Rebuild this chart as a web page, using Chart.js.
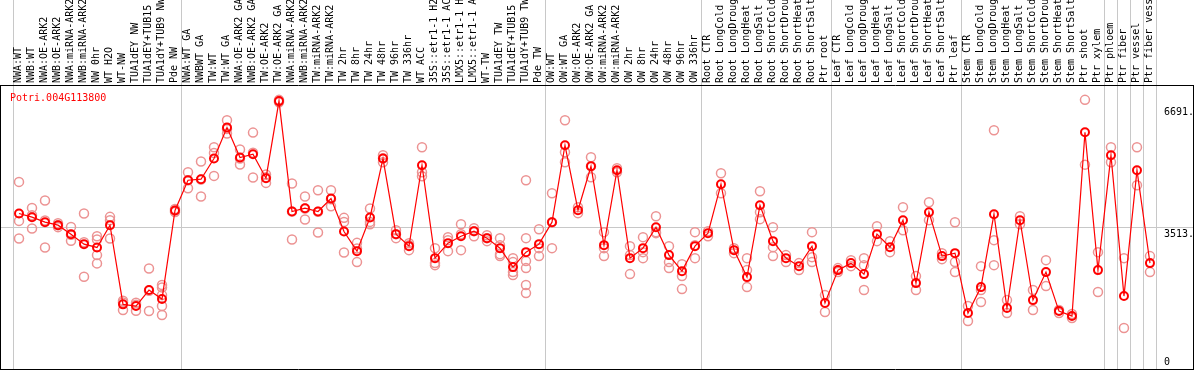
<!DOCTYPE html>
<html>
<head>
<meta charset="utf-8">
<script src="https://cdn.jsdelivr.net/npm/chart.js@4"></script>
<style>
html, body { margin: 0; padding: 0; background: #fff; }
canvas { display: block; }
</style>
</head>
<body>
<canvas id="chart" width="1194" height="370"></canvas>
<script>
var geneName = 'Potri.004G113800';

var categories = [
  'NWA:WT', 'NWB:WT', 'NWA:OE-ARK2', 'NWB:OE-ARK2', 'NWA:miRNA-ARK2', 'NWB:miRNA-ARK2',
  'NW 0hr', 'WT H2O', 'WT-NW', 'TUA1dEY NW', 'TUA1dEY+TUB15', 'TUA1dY+TUB9 NW', 'Pde NW',
  'NWA:WT GA', 'NWBWT GA', 'TW:WT', 'TW:WT GA', 'NWA:OE-ARK2 GA', 'NWB:OE-ARK2 GA',
  'TW:OE-ARK2', 'TW:OE-ARK2 GA', 'NWA:miRNA-ARK2', 'NWB:miRNA-ARK2', 'TW:miRNA-ARK2',
  'TW:miRNA-ARK2', 'TW 2hr', 'TW 8hr', 'TW 24hr', 'TW 48hr', 'TW 96hr', 'TW 336hr', 'WT ACC',
  '35S::etr1-1 H2', '35S::etr1-1 AC', 'LMX5::etr1-1 H', 'LMX5::etr1-1 A', 'WT-TW',
  'TUA1dEY TW', 'TUA1dEY+TUB15', 'TUA1dY+TUB9 TW', 'Pde TW',
  'OW:WT', 'OW:WT GA', 'OW:OE-ARK2', 'OW:OE-ARK2 GA', 'OW:miRNA-ARK2', 'OW:miRNA-ARK2',
  'OW 2hr', 'OW 8hr', 'OW 24hr', 'OW 48hr', 'OW 96hr', 'OW 336hr',
  'Root CTR', 'Root LongCold', 'Root LongDroug', 'Root LongHeat', 'Root LongSalt',
  'Root ShortCold', 'Root ShortDrou', 'Root ShortHeat', 'Root ShortSalt', 'Ptr root',
  'Leaf CTR', 'Leaf LongCold', 'Leaf LongDroug', 'Leaf LongHeat', 'Leaf LongSalt',
  'Leaf ShortCold', 'Leaf ShortDrou', 'Leaf ShortHeat', 'Leaf ShortSalt', 'Ptr leaf',
  'Stem CTR', 'Stem LongCold', 'Stem LongDroug', 'Stem LongHeat', 'Stem LongSalt',
  'Stem ShortCold', 'Stem ShortDrou', 'Stem ShortHeat', 'Stem ShortSalt',
  'Ptr shoot', 'Ptr xylem', 'Ptr phloem', 'Ptr fiber', 'Ptr vessel', 'Ptr fiber vess'
];

var means = [
  3866, 3774, 3650, 3576, 3352, 3104, 3022, 3576, 1607, 1564, 1962, 1738, 3941,
  4693, 4718, 5232, 6001, 5256, 5338, 4743, 6660, 3916, 3998, 3916, 4238, 3419, 2930, 3767, 5232,
  3352, 3054, 5065, 2756, 3129, 3302, 3427, 3253, 3004, 2533, 2905, 3104,
  3650, 5562, 3948, 5040, 3079, 4941, 2756, 3004, 3526, 2831, 2433, 3054,
  3377, 4594, 2955, 2284, 4072, 3178, 2756, 2557, 3054, 1639,
  2458, 2632, 2359, 3352, 3029, 3700, 2135, 3898, 2806, 2880,
  1390, 2036, 3849, 1515, 3700, 1713, 2409, 1440, 1316, 5885,
  2458, 5314, 1813, 4941, 2632
];

var replicates = [
  [4651, 3682, 3245], [4005, 3494, 3824], [4189, 3692, 3022], [3625, 3576, 3526],
  [3533, 3186, 3337], [3866, 2292, 3153], [3302, 3220, 2831, 2625], [3782, 3700, 3245],
  [1696, 1465, 1656], [1646, 1448, 1599], [2500, 1440, 1944], [2086, 2029, 1837, 1564, 1341],
  [3900, 3941, 3980],
  [4892, 4693, 4494], [5157, 4288, 4708], [5512, 5371, 4800], [6183, 5852, 5969],
  [5455, 5083, 5232], [5877, 4760, 5378], [4834, 4626, 4767], [6691, 6660, 6630],
  [4611, 3220, 3916], [4288, 3717, 3988], [4445, 3394, 3908], [4445, 4047, 4221],
  [3757, 3657, 2898], [3136, 2657, 2997], [3990, 3657, 3600], [5314, 5239, 5140],
  [3451, 3253, 3352], [3129, 2955, 3079], [5512, 4892, 4792], [3004, 2632, 2582],
  [3278, 3203, 2930], [3600, 3352, 2955], [3501, 3427, 3302], [3327, 3178, 3253],
  [3253, 3079, 2855, 2806], [2756, 2657, 2409, 2334], [4693, 3253, 2682, 2508, 2086, 1887],
  [3476, 3004, 2806],
  [4370, 3650, 3004], [6183, 5388, 5140], [4022, 3874], [5264, 5040, 4767],
  [3402, 3004, 2806], [4991, 4892], [3054, 2359, 2831], [3278, 2905, 2756],
  [3799, 3377, 3402], [3054, 2657, 2508], [2607, 2309, 1986], [3402, 3079, 2756],
  [3427, 3302], [4867, 4370], [3004, 2880], [2756, 2458, 2036], [4420, 3898, 3725],
  [3526, 3029, 2806], [2831, 2657], [2632, 2458], [3402, 2781, 2657], [1837, 1415],
  [2508, 2409], [2706, 2557], [2756, 2582, 1962], [3551, 3178], [3178, 2905],
  [4022, 3451], [2309, 1962], [4147, 3700], [2880, 2731], [3650, 2657, 2409],
  [1564, 1192], [2557, 1962, 1664], [5934, 3203, 2582], [1713, 1390], [3799, 3600],
  [1962, 1465], [2706, 2061], [1465, 1390], [1366, 1266], [6691, 5080],
  [2905, 1912], [5512, 5140], [2756, 1018], [5512, 4569], [2806, 2409]
];

var yTicks = [0, 3513, 6691];
var yTickLabels = ['0', '3513.', '6691.'];

// boundaries between sample groups, in category units
var groupEdges = [-0.5, 12.5, 40.5, 52.5, 62.5, 72.5, 83.5, 84.5, 85.5, 86.5, 87.5];

var monoFont = '"DejaVu Sans Mono", "Liberation Mono", monospace';

var meanPoints = means.map(function(v, i) {
  return { x: i, y: v };
});

var repPoints = [];
replicates.forEach(function(reps, i) {
  reps.forEach(function(v) {
    repPoints.push({ x: i, y: v });
  });
});

var decorations = {
  id: 'decorations',
  beforeDraw: function(chart) {
    var ctx = chart.ctx, x = chart.scales.x;
    ctx.save();
    ctx.strokeStyle = '#c8c8c8';
    ctx.lineWidth = 1;
    groupEdges.forEach(function(e) {
      var px = Math.round(x.getPixelForValue(e)) + 0.5;
      ctx.beginPath();
      ctx.moveTo(px, 0);
      ctx.lineTo(px, chart.height);
      ctx.stroke();
    });
    ctx.restore();
  },
  afterDraw: function(chart) {
    var ctx = chart.ctx, a = chart.chartArea, y = chart.scales.y;
    ctx.save();
    ctx.strokeStyle = '#000';
    ctx.lineWidth = 1;
    ctx.beginPath();
    ctx.moveTo(0, a.top + 0.5);
    ctx.lineTo(chart.width, a.top + 0.5);
    ctx.moveTo(a.left - 0.5, a.top);
    ctx.lineTo(a.left - 0.5, a.bottom + 1);
    ctx.moveTo(a.right + 0.5, a.top);
    ctx.lineTo(a.right + 0.5, a.bottom + 1);
    ctx.moveTo(0, a.bottom + 0.5);
    ctx.lineTo(chart.width, a.bottom + 0.5);
    ctx.stroke();

    ctx.font = '10px ' + monoFont;
    ctx.textAlign = 'left';
    ctx.textBaseline = 'alphabetic';
    ctx.fillStyle = '#ff0000';
    ctx.fillText(geneName, 10, a.top + 16);

    ctx.fillStyle = '#000';
    ctx.textBaseline = 'top';
    yTicks.forEach(function(v, i) {
      var py = y.getPixelForValue(v);
      var top = Math.min(Math.max(py + 2, a.top + 22), a.bottom - 12);
      ctx.fillText(yTickLabels[i], 1164, top);
    });
    ctx.restore();
  }
};

new Chart(document.getElementById('chart'), {
  type: 'line',
  data: {
    datasets: [
      {
        data: meanPoints,
        borderColor: '#ff0000',
        borderWidth: 1.2,
        pointStyle: 'circle',
        pointRadius: 4,
        pointBorderWidth: 2,
        pointBorderColor: '#ff0000',
        pointBackgroundColor: 'rgba(0,0,0,0)',
        tension: 0,
        fill: false,
        order: 1
      },
      {
        data: repPoints,
        showLine: false,
        pointStyle: 'circle',
        pointRadius: 4.5,
        pointBorderWidth: 1.5,
        pointBorderColor: '#ec9393',
        pointBackgroundColor: 'rgba(0,0,0,0)',
        order: 2
      }
    ]
  },
  options: {
    responsive: false,
    animation: false,
    devicePixelRatio: 1,
    layout: { autoPadding: false, padding: { left: 1, right: 1, top: 0, bottom: 1 } },
    plugins: {
      legend: { display: false },
      tooltip: { enabled: false },
      title: { display: false }
    },
    scales: {
      x: {
        type: 'linear',
        position: 'top',
        min: -1.385,
        max: 90.31,
        grid: { display: false, drawTicks: false },
        border: { display: false },
        afterBuildTicks: function(scale) {
          scale.ticks = categories.map(function(c, i) { return { value: i }; });
        },
        afterFit: function(scale) {
          scale.height = 85;
          scale.paddingLeft = 0;
          scale.paddingRight = 0;
        },
        ticks: {
          autoSkip: false,
          minRotation: 90,
          maxRotation: 90,
          padding: 2,
          labelOffset: 11,
          color: '#000',
          font: { family: monoFont, size: 10 },
          callback: function(value) {
            return categories[value];
          }
        }
      },
      y: {
        type: 'linear',
        min: 0,
        max: 7060,
        afterBuildTicks: function(scale) {
          scale.ticks = yTicks.map(function(v) { return { value: v }; });
        },
        afterFit: function(scale) {
          scale.width = 0;
          scale.paddingTop = 0;
          scale.paddingBottom = 0;
        },
        border: { display: false },
        grid: {
          drawTicks: false,
          color: function(c) {
            return c.tick && c.tick.value === 3513 ? '#c8c8c8' : 'rgba(0,0,0,0)';
          }
        },
        ticks: { display: false }
      }
    }
  },
  plugins: [decorations]
});
</script>
</body>
</html>
